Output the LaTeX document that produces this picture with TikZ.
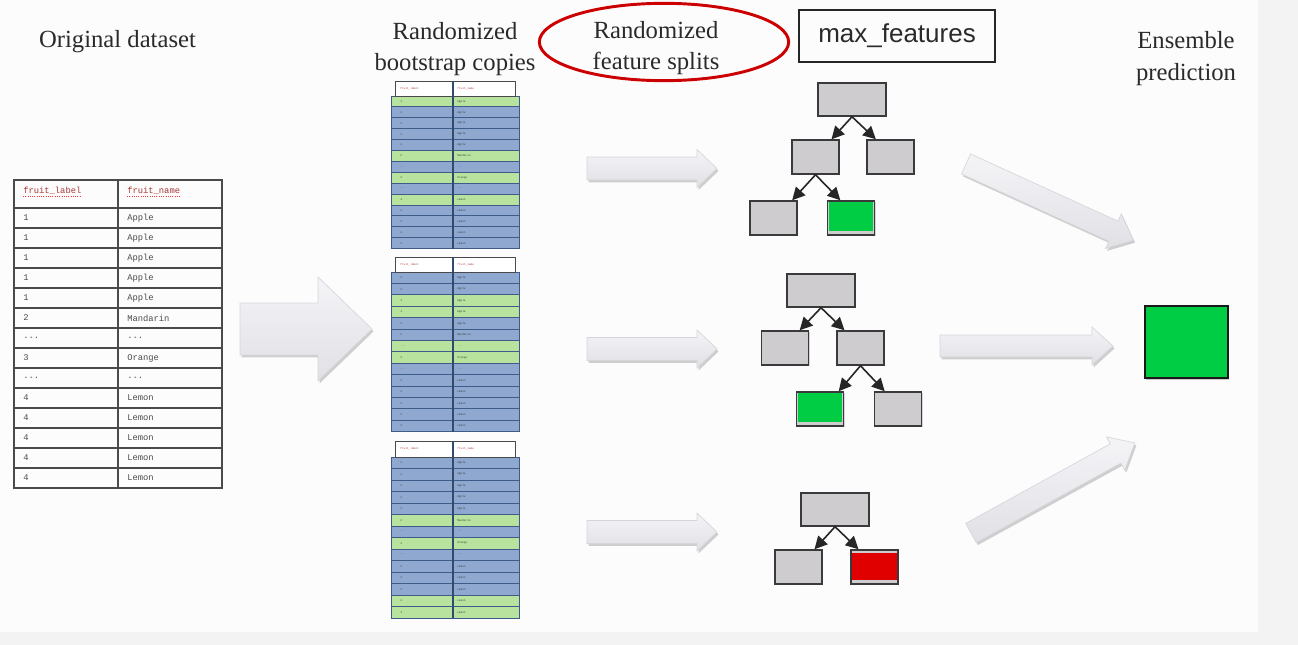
\documentclass[tikz,border=0pt]{standalone}
\usepackage{fontspec}
\setmainfont{Liberation Serif}
\newfontfamily\sansf{Liberation Sans}
\newfontfamily\monof{Liberation Mono}
\usetikzlibrary{arrows.meta,shadows,shapes.geometric,calc}

\definecolor{bgmain}{HTML}{FDFCFD}
\definecolor{bgside}{HTML}{F3F3F4}
\definecolor{arrtop}{HTML}{F4F3F6}
\definecolor{arrbot}{HTML}{E1E0E5}
\definecolor{arrdraw}{HTML}{D6D5DA}
\definecolor{boxgray}{HTML}{CFCCD0}
\definecolor{boxline}{HTML}{3A3A3C}
\definecolor{leafgreen}{HTML}{00CC44}
\definecolor{leafred}{HTML}{E00000}
\definecolor{rowblue}{HTML}{8EA8CF}
\definecolor{rowgreen}{HTML}{B8E39E}
\definecolor{rowline}{HTML}{3E5C8A}
\definecolor{ellred}{HTML}{CC0000}
\definecolor{hdrred}{HTML}{A83838}
\definecolor{textdark}{HTML}{2A2A2A}
\definecolor{tline}{HTML}{4A4A4C}

\def\dd{...}
\def\fruitrows{1/Apple,1/Apple,1/Apple,1/Apple,1/Apple,2/Mandarin,\dd/\dd,3/Orange,\dd/\dd,4/Lemon,4/Lemon,4/Lemon,4/Lemon,4/Lemon}

\tikzset{
  title/.style={font=\fontsize{18.5}{23.5}\selectfont, text=textdark, inner sep=0pt, align=center},
  blockarr/.style={top color=arrtop, bottom color=arrbot, draw=arrdraw, line width=0.5pt,
    drop shadow={shadow xshift=1.2pt, shadow yshift=-1.8pt, opacity=0.18, fill=black}},
  tabline/.style={draw=tline, line width=1.1pt},
  cell/.style={font=\monof\fontsize{6.6}{8}\selectfont, text=black!70, inner sep=0pt, anchor=west},
  hdrcell/.style={font=\monof\fontsize{6.6}{8}\selectfont, text=hdrred, inner sep=0pt, anchor=west},
  tinycell/.style={font=\monof\fontsize{2.1}{2.5}\selectfont, text=black!75, inner sep=0pt, anchor=west},
  tinyhdr/.style={font=\monof\fontsize{2.1}{2.5}\selectfont, text=hdrred, inner sep=0pt, anchor=west},
  tbox/.style={draw=boxline, fill=boxgray, line width=1.1pt, inner sep=0pt,
    drop shadow={shadow xshift=0.8pt, shadow yshift=-0.8pt, opacity=0.15, fill=black}},
  rootbox/.style={tbox, minimum width=51pt, minimum height=24.75pt},
  kidbox/.style={tbox, minimum width=35.25pt, minimum height=25.5pt},
  greenleaf/.style={kidbox, path picture={\fill[leafgreen] ([xshift=1pt,yshift=-1pt]path picture bounding box.north west) rectangle ([xshift=-1pt,yshift=3pt]path picture bounding box.south east);}},
  redleaf/.style={kidbox, path picture={\fill[leafred] ([xshift=1pt,yshift=-2.2pt]path picture bounding box.north west) rectangle ([xshift=-1pt,yshift=3pt]path picture bounding box.south east);}},
  tedge/.style={-{Triangle[length=9.5pt,width=9.5pt]}, line width=1.2pt, draw=black!85},
}

% #1 tail coordinate, #2 angle, #3 length, #4 shaft half width, #5 head half width, #6 head length
\newcommand{\blockarrow}[6]{%
  \begin{scope}[shift={#1}, rotate=#2]
    \path[blockarr] (0,-#4) -- ({#3-#6},-#4) -- ({#3-#6},-#5) -- (#3,0) -- ({#3-#6},#5) -- ({#3-#6},#4) -- (0,#4) -- cycle;
  \end{scope}}

% #1 prefix, #2 top, #3 header height, #4 row height, #5 colour list
\newcommand{\bstable}[5]{%
  \foreach \c [count=\i] in {#5} {
    \filldraw[fill=\c, draw=rowline, line width=0.7pt] (391,{#2+#3+(\i-1)*#4}) rectangle (519,{#2+#3+\i*#4});
  }
  \filldraw[fill=white, draw=tline, line width=0.7pt] (395,#2) rectangle (515,{#2+#3});
  \draw[draw=rowline!80!black, line width=0.8pt] (453,#2) -- (453,{#2+#3+14*#4});
  \node[tinyhdr] (#1h1) at (400,{#2+0.5*#3}) {fruit\_label};
  \node[tinyhdr] (#1h2) at (457,{#2+0.5*#3}) {fruit\_name};
  \foreach \l/\n [count=\i] in \fruitrows {
    \node[tinycell] (#1l\i) at (400,{#2+#3+(\i-0.5)*#4}) {\l};
    \node[tinycell] (#1n\i) at (457,{#2+#3+(\i-0.5)*#4}) {\n};
  }}

\begin{document}
\begin{tikzpicture}[x=0.75pt,y=-0.75pt]
\useasboundingbox (0,0) rectangle (1298,645);
\fill[bgside] (0,0) rectangle (1298,645);
\fill[bgmain] (0,0) rectangle (1258,632);

% titles
\node[title] (t1) at (117.5,42) {Original dataset};
\node[title] (t2) at (455,49) {Randomized\\bootstrap copies};
\node[ellipse, draw=ellred, line width=2.2pt, minimum width=187pt, minimum height=58pt] (ell) at (664,42) {};
\node[title] (t3) at (656,48) {Randomized\\feature splits};
\node[draw=black!85, line width=1.1pt, minimum width=147pt, minimum height=39pt, inner sep=0pt,
  font=\sansf\fontsize{19.5}{22}\selectfont, text=textdark] (mf) at (897,36) {max\_features};
\node[title] (t4) at (1186,58.5) {Ensemble\\prediction};

% original table
\draw[tabline] (14,180) rectangle (222,488);
\draw[tabline] (118,180) -- (118,488);
\foreach \k in {0,...,13} \draw[tabline] (14,{208+\k*20}) -- (222,{208+\k*20});
\node[hdrcell] (oh1) at (23,191) {fruit\_label};
\node[hdrcell] (oh2) at (127,191) {fruit\_name};
\draw[red!80, densely dotted, line width=0.7pt] ([yshift=-1pt]oh1.south west) -- ([yshift=-1pt]oh1.south east);
\draw[red!80, densely dotted, line width=0.7pt] ([yshift=-1pt]oh2.south west) -- ([yshift=-1pt]oh2.south east);
\foreach \l/\n [count=\i] in \fruitrows {
  \node[cell] (ol\i) at (23,{198+\i*20}) {\l};
  \node[cell] (on\i) at (127,{198+\i*20}) {\n};
}

% big arrow
\blockarrow{(240,329)}{0}{132}{26}{52}{54}

% bootstrap tables
\bstable{ba}{81}{15}{10.9}{rowgreen,rowblue,rowblue,rowblue,rowblue,rowgreen,rowblue,rowgreen,rowblue,rowgreen,rowblue,rowblue,rowblue,rowblue}
\bstable{bb}{257}{15}{11.4}{rowblue,rowblue,rowgreen,rowgreen,rowblue,rowblue,rowgreen,rowgreen,rowblue,rowblue,rowblue,rowblue,rowblue,rowblue}
\bstable{bc}{441}{16}{11.5}{rowblue,rowblue,rowblue,rowblue,rowblue,rowgreen,rowblue,rowgreen,rowblue,rowblue,rowblue,rowblue,rowgreen,rowgreen}

% arrows to trees
\blockarrow{(587,168.5)}{0}{130}{11.5}{19}{20}
\blockarrow{(587,349)}{0}{130}{11.5}{19}{20}
\blockarrow{(587,532)}{0}{130}{11.5}{19}{20}

% tree 1
\node[rootbox] (r1) at (852,99.5) {};
\node[kidbox] (a1) at (815.5,157) {};
\node[kidbox] (b1) at (890.5,157) {};
\node[kidbox] (c1) at (773.5,218) {};
\node[greenleaf] (d1) at (851,218) {};
\draw[tedge] (r1.south) -- ([xshift=12pt]a1.north);
\draw[tedge] (r1.south) -- ([xshift=-11pt]b1.north);
\draw[tedge] (a1.south) -- ([xshift=14pt]c1.north);
\draw[tedge] (a1.south) -- ([xshift=-8pt]d1.north);

% tree 2
\node[rootbox] (r2) at (821,290.5) {};
\node[kidbox] (a2) at (785,348) {};
\node[kidbox] (b2) at (860.5,348) {};
\node[greenleaf] (c2) at (820,409) {};
\node[kidbox] (d2) at (898,409) {};
\draw[tedge] (r2.south) -- ([xshift=11pt]a2.north);
\draw[tedge] (r2.south) -- ([xshift=-12pt]b2.north);
\draw[tedge] (b2.south) -- ([xshift=14pt]c2.north);
\draw[tedge] (b2.south) -- ([xshift=-10pt]d2.north);

% tree 3
\node[rootbox] (r3) at (835,509.5) {};
\node[kidbox] (a3) at (798.5,567) {};
\node[redleaf] (b3) at (874.5,567) {};
\draw[tedge] (r3.south) -- ([xshift=12pt]a3.north);
\draw[tedge] (r3.south) -- ([xshift=-12pt]b3.north);

% arrows to ensemble
\blockarrow{(966,164)}{-24.5}{184}{11}{19}{22}
\blockarrow{(940,346)}{0}{173}{11}{19}{21}
\blockarrow{(971,533)}{28.8}{187}{11}{19}{22}

% ensemble prediction
\node[draw=black!90, fill=leafgreen, line width=1.2pt, minimum width=62.25pt, minimum height=54pt, inner sep=0pt,
  drop shadow={shadow xshift=1pt, shadow yshift=-1.5pt, opacity=0.2, fill=black}] (ens) at (1186.5,342) {};
\end{tikzpicture}
\end{document}
